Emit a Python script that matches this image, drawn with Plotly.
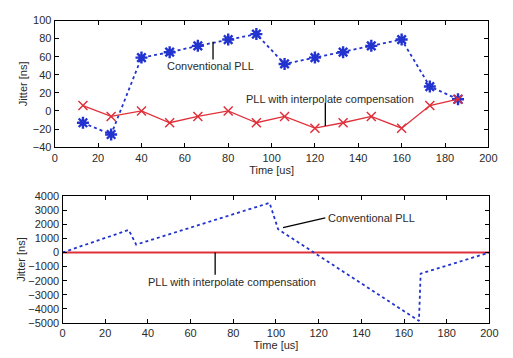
import plotly.graph_objects as go

# Top panel data
t_top = [13, 26, 40, 53, 66, 80, 93, 106, 120, 133, 146, 160, 173, 186]
conv_top = [-13, -26, 59, 65, 72, 79, 85, 52, 59, 65, 72, 79, 27, 13]
interp_top = [6, -6, 0, -13, -6, 0, -13, -6, -19, -13, -6, -19, 6, 13]

# Bottom panel data
t_bot_conv = [0, 31, 34.5, 97, 101, 167, 167.8, 200]
conv_bot = [0, 1600, 560, 3520, 1650, -4850, -1500, 0]
t_bot_interp = [0, 200]
interp_bot = [0, 0]

top_xticks = [0, 20, 40, 60, 80, 100, 120, 140, 160, 180, 200]
top_yticks = [-40, -20, 0, 20, 40, 60, 80, 100]
bot_yticks = [-5000, -4000, -3000, -2000, -1000, 0, 1000, 2000, 3000, 4000]

FONT = "Liberation Sans, Arial, sans-serif"
TXT = "#2a2a2a"
BLUE = "#2233d0"
RED = "#e0303a"
FS = 11

fig = go.Figure()

fig.add_trace(go.Scatter(x=t_top, y=conv_top, mode="lines+markers",
                         line=dict(color=BLUE, width=1.8, dash="3px,3px"),
                         marker=dict(symbol="asterisk-open", size=10,
                                     line=dict(color=BLUE, width=2.4)),
                         xaxis="x", yaxis="y", showlegend=False))
fig.add_trace(go.Scatter(x=t_top, y=interp_top, mode="lines+markers",
                         line=dict(color=RED, width=1.3),
                         marker=dict(symbol="x-thin-open", size=9,
                                     line=dict(color=RED, width=1.5)),
                         xaxis="x", yaxis="y", showlegend=False))

fig.add_trace(go.Scatter(x=t_bot_interp, y=interp_bot, mode="lines",
                         line=dict(color=RED, width=2),
                         xaxis="x2", yaxis="y2", showlegend=False))
fig.add_trace(go.Scatter(x=t_bot_conv, y=conv_bot, mode="lines",
                         line=dict(color=BLUE, width=1.8, dash="3px,3px"),
                         xaxis="x2", yaxis="y2", showlegend=False))

axis_common = dict(showgrid=False, zeroline=False, showline=True, linecolor="black",
                   linewidth=1.3, mirror="ticks", ticks="inside", ticklen=4,
                   tickcolor="black", tickfont=dict(family=FONT, size=FS, color=TXT))
title_font = dict(family=FONT, size=FS, color=TXT)

fig.update_layout(
    width=513, height=358,
    margin=dict(l=0, r=0, t=0, b=0),
    paper_bgcolor="white", plot_bgcolor="white",
    font=dict(family=FONT, size=FS, color=TXT),
    xaxis=dict(domain=[0.1033, 0.9688], range=[0, 200], tickvals=top_xticks,
               anchor="y", title=dict(text="Time [us]", standoff=3, font=title_font),
               **axis_common),
    yaxis=dict(domain=[0.592, 0.958], range=[-40, 100], tickvals=top_yticks,
               anchor="x", title=dict(text="Jitter [ns]", standoff=2, font=title_font),
               **axis_common),
    xaxis2=dict(domain=[0.1189, 0.9708], range=[0, 200], tickvals=top_xticks,
                anchor="y2", title=dict(text="Time [us]", standoff=1, font=title_font),
                **axis_common),
    yaxis2=dict(domain=[0.0838, 0.4506], range=[-5000, 4000], tickvals=bot_yticks,
                anchor="x2", title=dict(text="Jitter [ns]", standoff=0, font=title_font),
                **axis_common),
)

# Annotation pointer lines
fig.add_shape(type="line", xref="x", yref="y", x0=73, y0=76.5, x1=73, y1=57,
              line=dict(color="black", width=1.3))
fig.add_shape(type="line", xref="x", yref="y", x0=124.8, y0=9, x1=124.8, y1=-16.5,
              line=dict(color="black", width=1.3))
fig.add_shape(type="line", xref="x2", yref="y2", x0=103.3, y0=1760, x1=123.1, y1=2450,
              line=dict(color="black", width=1.3))
fig.add_shape(type="line", xref="x2", yref="y2", x0=71.5, y0=0, x1=71.5, y1=-1580,
              line=dict(color="black", width=1.3))

ann_font = dict(family=FONT, size=FS, color=TXT)
fig.add_annotation(x=72, y=49.8, xref="x", yref="y", text="Conventional PLL",
                   showarrow=False, font=ann_font)
fig.add_annotation(x=127, y=12.9, xref="x", yref="y",
                   text="PLL with interpolate compensation", showarrow=False, font=ann_font)
fig.add_annotation(x=123.6, y=2470, xref="x2", yref="y2", text="Conventional PLL",
                   showarrow=False, xanchor="left", font=ann_font)
fig.add_annotation(x=79.4, y=-2065, xref="x2", yref="y2",
                   text="PLL with interpolate compensation", showarrow=False, font=ann_font)

fig.write_html("out.html")
